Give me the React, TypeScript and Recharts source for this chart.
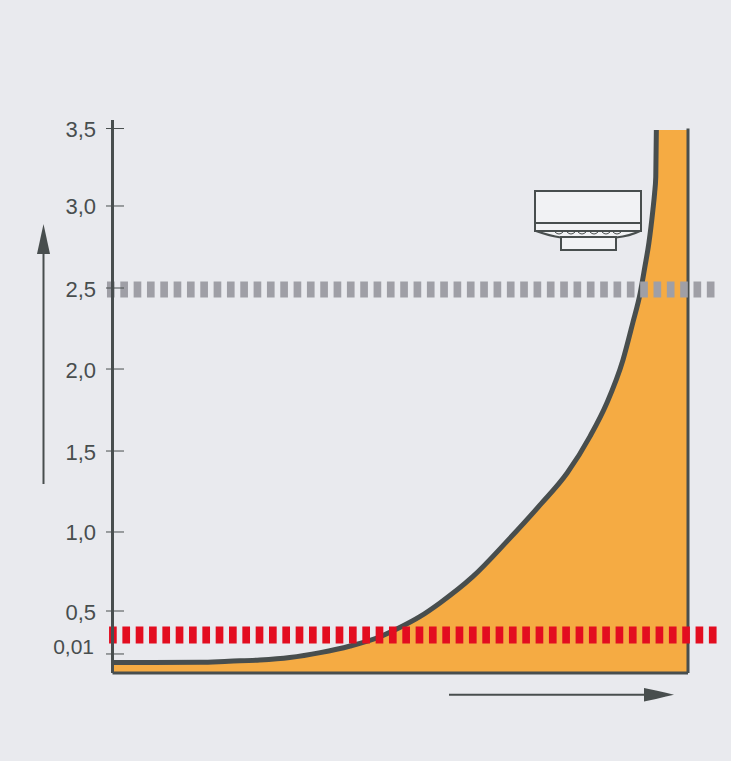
import React from "react";
import { ComposedChart, Area, Line, XAxis, YAxis, ReferenceLine } from "recharts";

const curveX = [0, 15.2, 20.2, 25.6, 30.8, 36.1, 41.3, 46.5, 50, 53.4, 56.9, 62.6, 68.5, 74.3, 79, 83, 85.9, 88.7, 90.4, 91.7, 92.5, 93.2, 93.9, 94.2, 94.4, 94.5, 100];
const fillY = [0.0055, 0.0056, 0.0062, 0.0068, 0.0081, 0.025, 0.101, 0.207, 0.314, 0.435, 0.551, 0.717, 0.939, 1.167, 1.364, 1.591, 1.793, 2.056, 2.284, 2.469, 2.628, 2.774, 2.976, 3.084, 3.187, 3.49, 3.49];
const lineY = [0.0055, 0.0056, 0.0062, 0.0068, 0.0081, 0.025, 0.101, 0.207, 0.314, 0.435, 0.551, 0.717, 0.939, 1.167, 1.364, 1.591, 1.793, 2.056, 2.284, 2.469, 2.628, 2.774, 2.976, 3.084, 3.187, 3.49, null];
const yTicks = [0.01, 0.5, 1, 1.5, 2, 2.5, 3, 3.5];
const yTickLabels = ["0,01", "0,5", "1,0", "1,5", "2,0", "2,5", "3,0", "3,5"];
const greyLevel = 2.49;
const redLevel = 0.225;

const data = curveX.map((x, i) => ({ x, fill: fillY[i], line: lineY[i] }));

const INK = "#484e4e";
const scaleValues = [0, 0.01, 0.5, 1, 1.5, 2, 2.5, 3, 3.5, 3.6];
const scaleFractions = [0, 0.0344, 0.1121, 0.255, 0.4014, 0.5497, 0.6962, 0.8445, 0.9846, 1];

function makeScale(d0: number[] = [0, 3.6], r0: number[] = [1, 0]) {
  let d = d0;
  let r = r0;
  const s: any = (v: number) => {
    let i = 0;
    while (i < scaleValues.length - 2 && v > scaleValues[i + 1]) i++;
    const t = (v - scaleValues[i]) / (scaleValues[i + 1] - scaleValues[i]);
    const f = scaleFractions[i] + t * (scaleFractions[i + 1] - scaleFractions[i]);
    return r[0] + f * (r[1] - r[0]);
  };
  s.domain = (x?: number[]) => (x ? ((d = x), s) : d);
  s.range = (x?: number[]) => (x ? ((r = x), s) : r);
  s.copy = () => makeScale(d, r);
  s.ticks = () => yTicks;
  return s;
}

const YTick = (props: any) => {
  const { y, payload } = props;
  const v = payload.value;
  const label = yTickLabels[yTicks.indexOf(v)];
  const small = v === 0.01;
  return (
    <g>
      <line x1={106} x2={124} y1={y} y2={y} stroke={INK} strokeWidth={1} />
      <text
        x={small ? 94 : 96}
        y={small ? y - 7 : y + 1}
        textAnchor="end"
        dominantBaseline="central"
        fontFamily="Liberation Sans, Arial, sans-serif"
        fontSize={small ? 21 : 22}
        fill={INK}
      >
        {label}
      </text>
    </g>
  );
};

const scallops = [555, 567, 578, 590, 602, 613];

export default function App() {
  return (
    <div style={{ width: 731, height: 761 }}>
      <style>{`html,body{margin:0;padding:0;background:#e9eaee;}`}</style>
      <ComposedChart
        width={731}
        height={761}
        data={data}
        margin={{ top: 120, right: 43, bottom: 0, left: 0 }}
        style={{ display: "block" }}
      >
        <XAxis
          dataKey="x"
          type="number"
          domain={[0, 100]}
          height={88}
          tick={false}
          tickLine={false}
          axisLine={{ stroke: INK, strokeWidth: 3 }}
        />
        <YAxis
          type="number"
          scale={makeScale()}
          domain={[0, 3.6]}
          ticks={yTicks}
          interval={0}
          width={112.5}
          tick={<YTick />}
          tickLine={false}
          axisLine={{ stroke: INK, strokeWidth: 3 }}
        />
        <Area dataKey="fill" type="monotone" fill="#f5ab43" fillOpacity={1} stroke="none" isAnimationActive={false} dot={false} activeDot={false} />
        <Line dataKey="line" type="monotone" stroke={INK} strokeWidth={5} dot={false} activeDot={false} isAnimationActive={false} />
        <ReferenceLine segment={[{ x: 100, y: 0 }, { x: 100, y: 3.5 }]} stroke={INK} strokeWidth={3} ifOverflow="visible" />
        <ReferenceLine segment={[{ x: -0.96, y: greyLevel }, { x: 104.7, y: greyLevel }]} stroke="#9f9fa6" strokeWidth={16} strokeDasharray="7.67 5.66" ifOverflow="visible" />
        <ReferenceLine segment={[{ x: -0.6, y: redLevel }, { x: 105.04, y: redLevel }]} stroke="#e30d20" strokeWidth={17} strokeDasharray="7.67 5.66" ifOverflow="visible" />

        <g>
          <line x1={43.5} x2={43.5} y1={254} y2={484} stroke={INK} strokeWidth={2} />
          <polygon points="43.5,224 37,254 50,254" fill={INK} />
          <line x1={449} x2={646} y1={694.7} y2={694.7} stroke={INK} strokeWidth={2} />
          <polygon points="644,688 656,690.5 666,692.8 674,694.7 666,696.6 656,699 644,701.5" fill={INK} />
        </g>
        <g stroke={INK} fill="#f1f2f4">
          <path d="M536 231 Q550 236 561 237.5 L616 237.5 Q630 236 640 231 Z" strokeWidth={2} />
          <rect x={535} y={191} width={106} height={40} strokeWidth={2} />
          <line x1={535} x2={641} y1={223} y2={223} strokeWidth={2} />
          {scallops.map((sx) => (
            <path key={sx} d={`M${sx} 232 Q${sx + 4} 236 ${sx + 8} 232`} fill="none" strokeWidth={1} />
          ))}
          <rect x={561} y={237} width={55} height={13} strokeWidth={2} />
        </g>
      </ComposedChart>
    </div>
  );
}
